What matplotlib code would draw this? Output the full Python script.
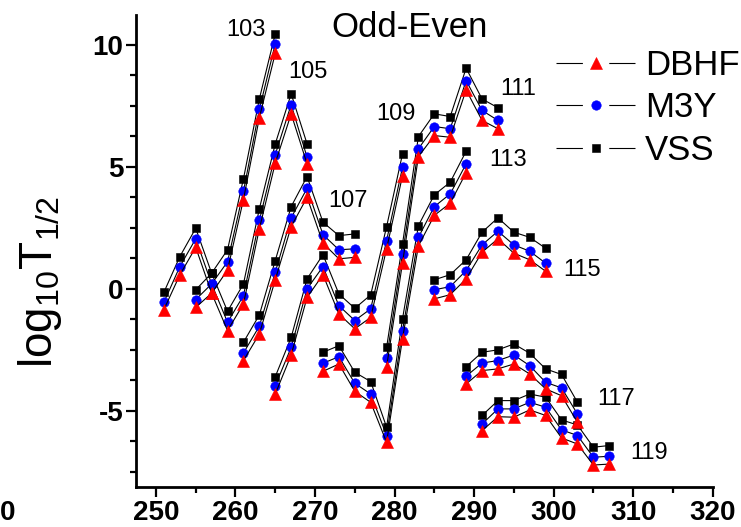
import matplotlib
matplotlib.use('Agg')
import matplotlib.pyplot as plt
from matplotlib.lines import Line2D
from matplotlib.legend_handler import HandlerTuple
from matplotlib.ticker import MultipleLocator

plt.rcParams['font.family'] = ['Liberation Sans', 'DejaVu Sans']
plt.rcParams['mathtext.fontset'] = 'custom'
plt.rcParams['mathtext.rm'] = 'Liberation Sans'
plt.rcParams['mathtext.it'] = 'Liberation Sans:italic'
plt.rcParams['mathtext.bf'] = 'Liberation Sans:bold'

# ---------------- data (mass number A, log10 T1/2) ----------------
A103 = [251, 253, 255, 257, 259, 261, 263, 265]
vss103 = [-0.15, 1.31, 2.47, 0.63, 1.59, 4.50, 7.77, 10.44]
m3y103 = [-0.56, 0.90, 2.04, 0.19, 1.10, 3.98, 7.34, 10.03]
dbhf103 = [-0.86, 0.56, 1.69, -0.19, 0.76, 3.65, 7.00, 9.64]

A105 = [255, 257, 259, 261, 263, 265, 267, 269]
vss105 = [-0.05, 0.63, -0.93, 0.19, 3.27, 5.93, 7.98, 5.93]
m3y105 = [-0.45, 0.19, -1.38, -0.29, 2.79, 5.49, 7.54, 5.38]
dbhf105 = [-0.77, -0.19, -1.72, -0.63, 2.45, 5.14, 7.16, 5.11]

A107 = [261, 263, 265, 267, 269, 271, 273, 275]
vss107 = [-2.20, -1.08, 1.15, 3.36, 4.59, 2.72, 2.17, 2.24]
m3y107 = [-2.64, -1.54, 0.67, 2.90, 4.11, 2.21, 1.59, 1.63]
dbhf107 = [-2.95, -1.86, 0.36, 2.54, 3.74, 1.86, 1.22, 1.28]

A109 = [265, 267, 269, 271, 273, 275, 277, 279, 281]
vss109 = [-3.61, -2.00, 0.40, 1.39, -0.22, -0.81, -0.26, 2.54, 5.52]
m3y109 = [-3.98, -2.41, -0.01, 0.90, -0.70, -1.31, -0.83, 1.97, 4.97]
dbhf109 = [-4.32, -2.72, -0.36, 0.57, -1.04, -1.65, -1.18, 1.63, 4.63]

A111 = [279, 281, 283, 285, 287, 289, 291, 293]
vss111 = [-2.41, 1.83, 6.23, 7.16, 7.05, 9.03, 7.77, 7.41]
m3y111 = [-2.85, 1.42, 5.73, 6.64, 6.55, 8.52, 7.30, 6.89]
dbhf111 = [-3.20, 1.05, 5.41, 6.27, 6.20, 8.14, 6.89, 6.55]

A113 = [271, 273, 275, 277, 279, 281, 283, 285, 287, 289]
vss113 = [-2.61, -2.34, -3.43, -3.81, -5.68, -1.24, 2.58, 3.84, 4.36, 5.63]
m3y113 = [-3.06, -2.79, -3.88, -4.32, -6.02, -1.72, 2.10, 3.36, 3.88, 5.11]
dbhf113 = [-3.39, -3.09, -4.21, -4.66, -6.30, -2.05, 1.75, 3.00, 3.50, 4.75]

A115 = [285, 287, 289, 291, 293, 295, 297, 299]
vss115 = [0.36, 0.57, 1.18, 2.31, 2.90, 2.31, 2.10, 1.65]
m3y115 = [-0.05, 0.08, 0.74, 1.79, 2.35, 1.79, 1.53, 1.04]
dbhf115 = [-0.42, -0.25, 0.40, 1.49, 2.04, 1.45, 1.18, 0.71]

A117 = [289, 291, 293, 295, 297, 299, 301, 303]
vss117 = [-3.20, -2.61, -2.51, -2.27, -2.65, -3.29, -3.52, -4.66]
m3y117 = [-3.59, -3.05, -2.95, -2.72, -3.16, -3.84, -4.07, -5.14]
dbhf117 = [-3.91, -3.36, -3.29, -3.09, -3.50, -4.11, -4.39, -5.48]

A119 = [291, 293, 295, 297, 299, 301, 303, 305, 307]
vss119 = [-5.20, -4.59, -4.59, -4.32, -4.45, -5.38, -5.59, -6.50, -6.43]
m3y119 = [-5.55, -4.93, -4.93, -4.66, -4.86, -5.79, -6.02, -6.91, -6.87]
dbhf119 = [-5.82, -5.25, -5.27, -4.97, -5.20, -6.12, -6.37, -7.23, -7.19]

chain_labels = ['103', '105', '107', '109', '111', '113', '115', '117', '119']
label_x = [261.3, 269.1, 274.2, 280.2, 295.5, 294.3, 303.6, 307.9, 312.0]
label_y = [10.35, 8.63, 3.34, 6.91, 7.93, 5.02, 0.51, -4.77, -6.99]

series_names = ['DBHF', 'M3Y', 'VSS']

x_ticks = [250, 260, 270, 280, 290, 300, 310, 320]
x_ticklabels = ['250', '260', '270', '280', '290', '300', '310', '320']
y_ticks = [-5, 0, 5, 10]
y_ticklabels = ['-5', '0', '5', '10']

chains = [
    (A103, dbhf103, m3y103, vss103),
    (A105, dbhf105, m3y105, vss105),
    (A107, dbhf107, m3y107, vss107),
    (A109, dbhf109, m3y109, vss109),
    (A111, dbhf111, m3y111, vss111),
    (A113, dbhf113, m3y113, vss113),
    (A115, dbhf115, m3y115, vss115),
    (A117, dbhf117, m3y117, vss117),
    (A119, dbhf119, m3y119, vss119),
]

# ---------------- figure ----------------
W, H = 741, 527
fig = plt.figure(figsize=(W / 100, H / 100), dpi=100)
ax = fig.add_axes([136 / W, 1 - 487 / H, (713 - 136) / W, (487 - 15) / H])

RED = '#ff0000'
BLUE = '#0000ff'
styles = {
    'VSS': dict(marker='s', ms=6.2, mfc='k', mec='k', z=2),
    'M3Y': dict(marker='o', ms=6.8, mfc=BLUE, mec=BLUE, z=3),
    'DBHF': dict(marker='^', ms=8.4, mfc=RED, mec=RED, z=4),
}

for A, d, m, v in chains:
    for name, vals in (('VSS', v), ('M3Y', m), ('DBHF', d)):
        st = styles[name]
        ax.plot(A, vals, '-', color='k', lw=0.8, marker=st['marker'], ms=st['ms'],
                mfc=st['mfc'], mec=st['mec'], mew=0.4, zorder=st['z'])

for t, x, y in zip(chain_labels, label_x, label_y):
    ax.text(x, y, t, fontsize=17, ha='center', va='baseline', zorder=6)

ax.text(281.9, 10.31, 'Odd-Even', fontsize=25, ha='center', va='baseline')

ax.set_xlim(247.49, 320.04)
ax.set_ylim(-8.13, 11.21)
ax.set_xticks(x_ticks)
ax.set_xticklabels(x_ticklabels, fontsize=20, fontweight='bold')
ax.set_yticks(y_ticks)
ax.set_yticklabels(y_ticklabels, fontsize=20, fontweight='bold')
ax.xaxis.set_minor_locator(MultipleLocator(5))
ax.yaxis.set_minor_locator(MultipleLocator(1.25))
for s in ('top', 'right'):
    ax.spines[s].set_visible(False)
for s in ('left', 'bottom'):
    ax.spines[s].set_linewidth(2.0)
ax.tick_params(which='major', direction='out', length=7.2, width=1.6)
ax.tick_params(axis='x', which='major', pad=2.2)
ax.tick_params(axis='y', which='major', pad=2.0)
ax.tick_params(which='minor', direction='out', length=4.3, width=1.6)

fig.text(40 / W, 1 - 282 / H, r'$\mathregular{log_{10}T_{1/2}}$', rotation=90,
         fontsize=33, ha='center', va='center')

fig.text(15 / W, 1 - 520 / H, '0', ha='right', va='baseline', fontsize=20, fontweight='bold')

# legend
handles = []
for name in series_names:
    st = styles[name]
    dash = Line2D([], [], color='k', lw=0.8, linestyle=(0, (23.75, 23.75)))
    mk = Line2D([], [], ls='none', marker=st['marker'], ms=st['ms'], mfc=st['mfc'], mec=st['mec'], mew=0.4)
    handles.append((dash, mk))
leg = ax.legend(handles, series_names, handler_map={tuple: HandlerTuple(ndivide=1)},
                loc='upper left', bbox_to_anchor=(556 / W, 1 - 49 / H), bbox_transform=fig.transFigure,
                frameon=False, fontsize=25, handlelength=2.28, handletextpad=0.29,
                borderpad=0, borderaxespad=0, labelspacing=0.27, numpoints=1)

fig.savefig('out.png', dpi=100)
